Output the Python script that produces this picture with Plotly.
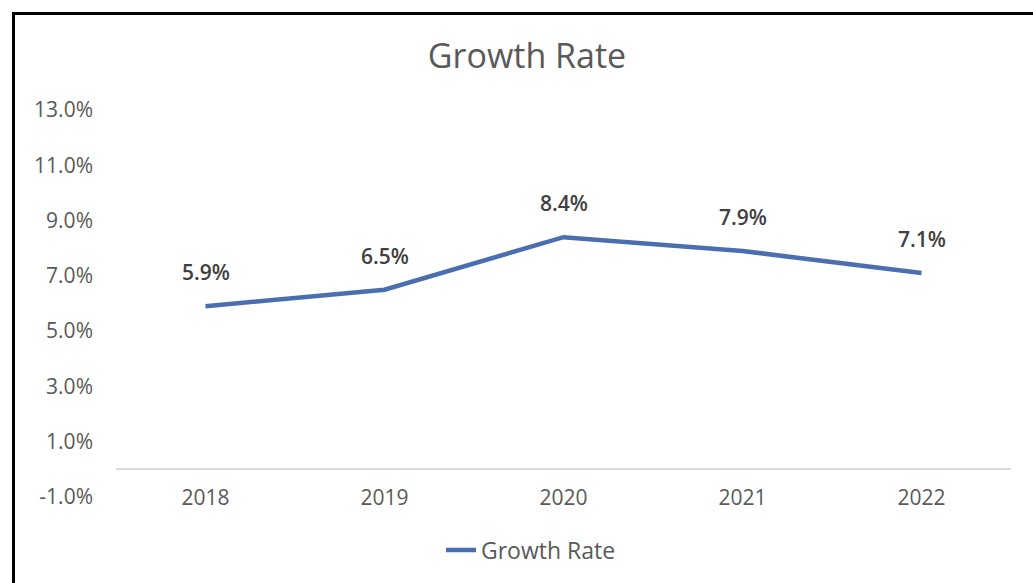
import plotly.graph_objects as go

years = ["2018", "2019", "2020", "2021", "2022"]
growth = [5.9, 6.5, 8.4, 7.9, 7.1]
labels = ["5.9%", "6.5%", "8.4%", "7.9%", "7.1%"]
ytick_vals = [-1, 1, 3, 5, 7, 9, 11, 13]
ytick_text = ["-1.0%", "1.0%", "3.0%", "5.0%", "7.0%", "9.0%", "11.0%", "13.0%"]

W, H = 1033, 583
L, R, T, B = 116, 22, 110, 86
pw, ph = W - L - R, H - T - B

FONT = "Open Sans"
fig = go.Figure()
fig.add_trace(go.Scatter(
    x=years, y=growth, mode="lines", name="Growth Rate",
    line=dict(color="#4a6eb0", width=4.5),
))

# category axis: numeric x refers to the category index
for i, (y, t) in enumerate(zip(growth, labels)):
    fig.add_annotation(x=i, y=y, xref="x", yref="y", text=t, showarrow=False, yshift=34,
                       font=dict(family=FONT, size=21, color="#404040", weight=600))

def px_x(p):
    return (p - L) / pw

def px_y(p):
    return (H - B - p) / ph

border = dict(color="black", width=3)
fig.add_shape(type="line", xref="paper", yref="paper",
              x0=px_x(13.5), x1=px_x(13.5), y0=px_y(13.5), y1=px_y(600), line=border)
fig.add_shape(type="line", xref="paper", yref="paper",
              x0=px_x(12), x1=px_x(1050), y0=px_y(13.5), y1=px_y(13.5), line=border)

fig.update_layout(
    width=W, height=H,
    margin=dict(l=L, r=R, t=T, b=B),
    paper_bgcolor="white", plot_bgcolor="white",
    title=dict(text="Growth Rate", x=527 / W, xanchor="center", xref="container",
               y=1 - 56 / H, yanchor="middle", yref="container",
               font=dict(family=FONT, size=34, color="#595959")),
    showlegend=True,
    legend=dict(orientation="h", x=px_x(531), xanchor="center", y=px_y(550), yanchor="middle",
                font=dict(family=FONT, size=23, color="#595959")),
    xaxis=dict(type="category", categoryorder="array", categoryarray=years,
               range=[-0.5, len(years) - 0.5], autorange=False,
               showgrid=False, showline=False, ticks="",
               tickfont=dict(family=FONT, size=21, color="#595959"),
               ticklabelstandoff=-14),
    yaxis=dict(range=[-1, 13], tickvals=ytick_vals, ticktext=ytick_text,
               showgrid=False, showline=False, ticks="",
               zeroline=True, zerolinecolor="#d9d9d9", zerolinewidth=1.5,
               tickfont=dict(family=FONT, size=21, color="#595959"),
               ticklabelstandoff=22),
)

fig.write_html("out.html")
